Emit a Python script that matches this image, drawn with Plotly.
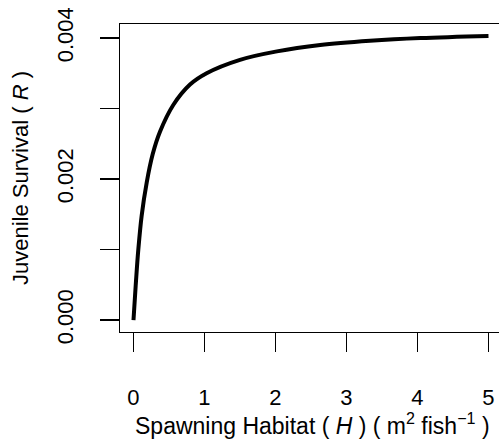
import plotly.graph_objects as go

# Values
habitat_H = [0, 0.012, 0.035, 0.068, 0.115, 0.186, 0.27, 0.373, 0.56, 0.796,
             1.03, 1.5, 2.02, 2.63, 3.33, 4.04, 5.0]
survival_R = [0.0, 0.00019, 0.00055, 0.00100, 0.00148, 0.00195, 0.00235, 0.00267,
              0.00305, 0.00334, 0.00350, 0.00369, 0.00381, 0.00390, 0.00396,
              0.00400, 0.00403]

x_ticks = [0, 1, 2, 3, 4, 5]
x_tick_labels = ["0", "1", "2", "3", "4", "5"]
y_ticks = [0.000, 0.001, 0.002, 0.003, 0.004]
y_tick_labels = ["0.000", "", "0.002", "", "0.004"]

x_title = "Spawning Habitat ( <i>H</i> ) ( m<sup>2</sup> fish<sup>\u22121</sup> )"
y_title = "Juvenile Survival ( <i>R</i> )"

FONT = "Liberation Sans, Arial, sans-serif"

fig = go.Figure()
fig.add_trace(go.Scatter(
    x=habitat_H, y=survival_R, mode="lines",
    line=dict(color="black", width=4, shape="spline", smoothing=1.0),
    hoverinfo="skip", showlegend=False,
))

fig.update_layout(
    width=499, height=439,
    margin=dict(l=120, r=0, t=24, b=107, autoexpand=False),
    paper_bgcolor="white", plot_bgcolor="white",
    font=dict(family=FONT, size=22, color="black"),
    xaxis=dict(
        range=[-0.19, 5.148], tickvals=x_ticks, ticktext=x_tick_labels,
        ticks="outside", ticklen=19, tickwidth=1.3, tickcolor="black",
        showline=True, linecolor="black", linewidth=1.3, mirror=True,
        showgrid=False, zeroline=False, ticklabelstandoff=26, automargin=False,
        tickfont=dict(family=FONT, size=22, color="black"),
    ),
    yaxis=dict(
        range=[-0.00017, 0.0041986], tickvals=y_ticks, ticktext=y_tick_labels,
        ticks="outside", ticklen=19, tickwidth=1.3, tickcolor="black",
        showline=True, linecolor="black", linewidth=1.3, automargin=False,
        showgrid=False, zeroline=False, tickangle=-90, ticklabelstandoff=18,
        tickfont=dict(family=FONT, size=22, color="black"),
    ),
    annotations=[
        dict(text=x_title, xref="paper", yref="paper", x=0.5066, y=-0.2987,
             xanchor="center", yanchor="middle", showarrow=False,
             font=dict(family=FONT, size=23, color="black")),
        dict(text=y_title, xref="paper", yref="paper", x=-0.2639, y=0.5,
             xanchor="center", yanchor="middle", textangle=-90, showarrow=False,
             font=dict(family=FONT, size=22, color="black")),
    ],
)

fig.write_html("out.html",
               config={"displayModeBar": False, "staticPlot": True},
               post_script="document.body.style.margin='0';document.body.style.overflow='hidden';")
